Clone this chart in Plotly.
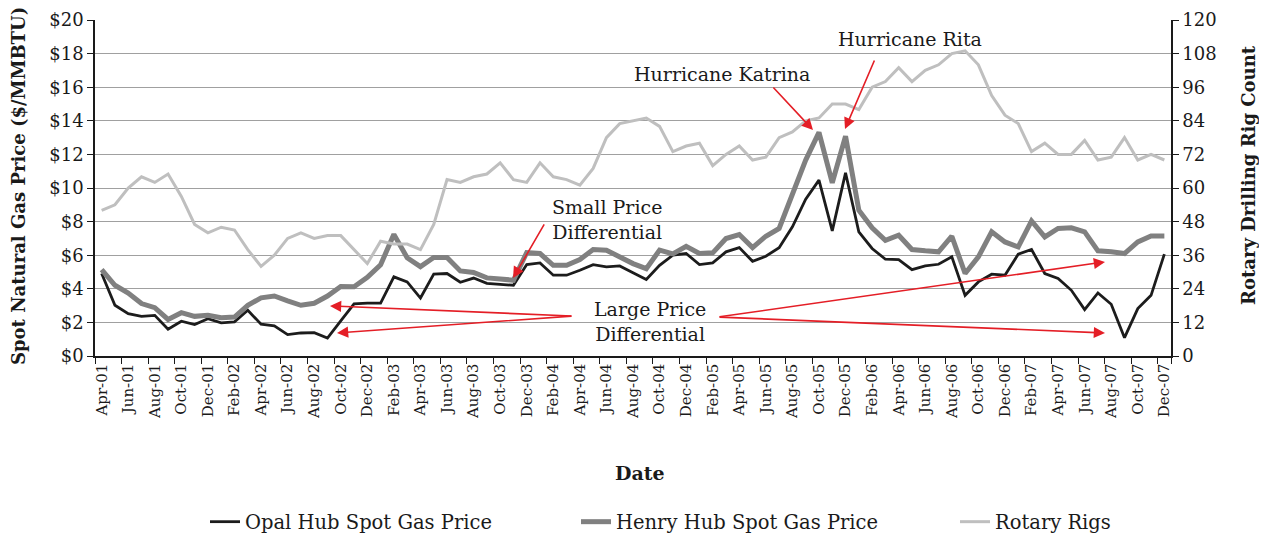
import pandas as pd
import plotly.graph_objects as go

months = list(pd.date_range("2001-04-01", periods=81, freq="MS").strftime("%b-%y"))

opal_price = [4.91, 3.02, 2.52, 2.36, 2.42, 1.59, 2.07, 1.87, 2.22, 1.97,
              2.03, 2.72, 1.89, 1.79, 1.27, 1.37, 1.39, 1.07, 2.09, 3.10,
              3.15, 3.15, 4.71, 4.41, 3.45, 4.88, 4.91, 4.39, 4.64, 4.32,
              4.26, 4.21, 5.44, 5.54, 4.81, 4.81, 5.10, 5.44, 5.30, 5.36,
              4.95, 4.55, 5.40, 6.00, 6.10, 5.44, 5.54, 6.20, 6.45, 5.64,
              5.94, 6.45, 7.69, 9.33, 10.47, 7.45, 10.90, 7.39, 6.40, 5.76,
              5.74, 5.14, 5.36, 5.46, 5.90, 3.61, 4.41, 4.87, 4.81, 6.06,
              6.34, 4.91, 4.61, 3.91, 2.76, 3.75, 3.08, 1.09, 2.82, 3.61,
              6.06]

henry_price = [5.14, 4.21, 3.75, 3.12, 2.88, 2.18, 2.58, 2.36, 2.42, 2.28,
               2.32, 3.02, 3.46, 3.57, 3.28, 3.02, 3.14, 3.57, 4.14, 4.12,
               4.68, 5.43, 7.24, 5.85, 5.32, 5.86, 5.86, 5.06, 4.97, 4.65,
               4.59, 4.51, 6.16, 6.10, 5.40, 5.40, 5.74, 6.34, 6.30, 5.90,
               5.50, 5.20, 6.30, 6.08, 6.53, 6.10, 6.14, 6.99, 7.23, 6.45,
               7.13, 7.59, 9.67, 11.66, 13.31, 10.31, 13.09, 8.68, 7.63, 6.89,
               7.19, 6.34, 6.26, 6.20, 7.13, 4.91, 5.90, 7.39, 6.79, 6.49,
               8.04, 7.09, 7.59, 7.63, 7.39, 6.26, 6.20, 6.10, 6.79, 7.15,
               7.15]

rotary_rigs = [52, 54, 60, 64, 62, 65, 57, 47, 44, 46,
               45, 38, 32, 36, 42, 44, 42, 43, 43, 38,
               33, 41, 40, 40, 38, 47, 63, 62, 64, 65,
               69, 63, 62, 69, 64, 63, 61, 67, 78, 83,
               84, 85, 82, 73, 75, 76, 68, 72, 75, 70,
               71, 78, 80, 84, 85, 90, 90, 88, 96, 98,
               103, 98, 102, 104, 108, 109, 104, 93, 86, 83,
               73, 76, 72, 72, 77, 70, 71, 78, 70, 72,
               70]

price_ticks = list(range(0, 21, 2))
price_labels = ["$" + str(v) for v in price_ticks]
rig_ticks = list(range(0, 121, 12))

FONT = "DejaVu Serif"
RED = "#e41e26"
INK = "#1a1a1a"

# the page body adds an 8px margin, so the figure is sized to fill the rest
W, H = 1259, 528

fig = go.Figure()
fig.add_trace(go.Scatter(x=months, y=opal_price, name="Opal Hub Spot Gas Price",
                         mode="lines", line=dict(color="#1c1c1c", width=2.8),
                         legend="legend"))
fig.add_trace(go.Scatter(x=months, y=henry_price, name="Henry Hub Spot Gas Price",
                         mode="lines", line=dict(color="#808080", width=5),
                         legend="legend2"))
fig.add_trace(go.Scatter(x=months, y=rotary_rigs, name="Rotary Rigs", yaxis="y2",
                         mode="lines", line=dict(color="#bfbfbf", width=3),
                         legend="legend3"))

annotations = []
texts = [
    ("Small Price<br>Differential", 38.04, 8.1),
    ("Large Price<br>Differential", 41.28, 2.08),
    ("Hurricane Katrina", 46.7, 16.79),
    ("Hurricane Rita", 60.85, 18.85),
]
for t, x, y in texts:
    annotations.append(dict(text=t, x=x, y=y, xref="x", yref="y", showarrow=False,
                            font=dict(family=FONT, size=19, color=INK),
                            xanchor="center", yanchor="middle", align="center"))
arrows = [
    (33.38, 7.92, 30.97, 4.64),
    (35.48, 2.38, 17.19, 2.98),
    (35.48, 2.38, 17.72, 1.37),
    (46.40, 2.32, 75.53, 5.60),
    (46.40, 2.32, 75.53, 1.37),
    (50.46, 16.07, 53.55, 13.45),
    (58.22, 17.68, 55.96, 13.51),
]
for ax_, ay_, x, y in arrows:
    annotations.append(dict(text="", x=x, y=y, xref="x", yref="y",
                            ax=ax_, ay=ay_, axref="x", ayref="y",
                            showarrow=True, arrowhead=2, arrowsize=1.4,
                            arrowwidth=1.6, arrowcolor=RED, standoff=0))
annotations.append(dict(text="<b>Spot Natural Gas Price ($/MMBTU)</b>",
                        x=(18 - 95) / 1076, y=(356 - 186) / 336,
                        xref="paper", yref="paper", showarrow=False, textangle=-90,
                        font=dict(family=FONT, size=18, color=INK),
                        xanchor="center", yanchor="middle"))
annotations.append(dict(text="<b>Rotary Drilling Rig Count</b>", x=1.0725, y=0.539,
                        xref="paper", yref="paper", showarrow=False, textangle=-90,
                        font=dict(family=FONT, size=18, color=INK),
                        xanchor="center", yanchor="middle"))
annotations.append(dict(text="<b>Date</b>", x=0.5065, y=-0.348,
                        xref="paper", yref="paper", showarrow=False,
                        font=dict(family=FONT, size=19, color=INK),
                        xanchor="center", yanchor="middle"))

legend_common = dict(orientation="h", xref="container", yref="container",
                     y=1 - 514 / H, yanchor="middle", xanchor="left",
                     font=dict(family=FONT, size=19.5, color=INK),
                     itemwidth=30, bgcolor="rgba(0,0,0,0)")

fig.update_layout(
    width=W, height=H,
    margin=dict(l=87, r=96, t=12, b=180, autoexpand=False),
    paper_bgcolor="white", plot_bgcolor="white",
    font=dict(family=FONT, color=INK),
    showlegend=True,
    legend=dict(x=197 / W, **legend_common),
    legend2=dict(x=568 / W, **legend_common),
    legend3=dict(x=947 / W, **legend_common),
    xaxis=dict(type="category", categoryorder="array", categoryarray=months,
               range=[-0.5, 80.5], tickmode="array", tickvals=months[::2],
               tickson="boundaries", ticks="outside", ticklen=6, tickcolor=INK,
               tickangle=-90, showgrid=False, showline=True, linecolor=INK,
               linewidth=1.5, tickfont=dict(family=FONT, size=15), zeroline=False,
               automargin=False),
    yaxis=dict(range=[0, 20], tickmode="array", tickvals=price_ticks, ticktext=price_labels,
               ticks="outside", ticklen=6, tickcolor=INK,
               showgrid=True, gridcolor="#a0a0a0", gridwidth=1.3,
               showline=True, linecolor=INK, linewidth=1.5,
               tickfont=dict(family=FONT, size=18), zeroline=False, automargin=False),
    yaxis2=dict(range=[0, 120], tickmode="array", tickvals=rig_ticks, overlaying="y", side="right",
                ticks="outside", ticklen=6, tickcolor=INK, showgrid=False,
                showline=True, linecolor=INK, linewidth=1.5,
                tickfont=dict(family=FONT, size=18), zeroline=False, automargin=False),
    annotations=annotations,
)

fig.write_html("out.html")
